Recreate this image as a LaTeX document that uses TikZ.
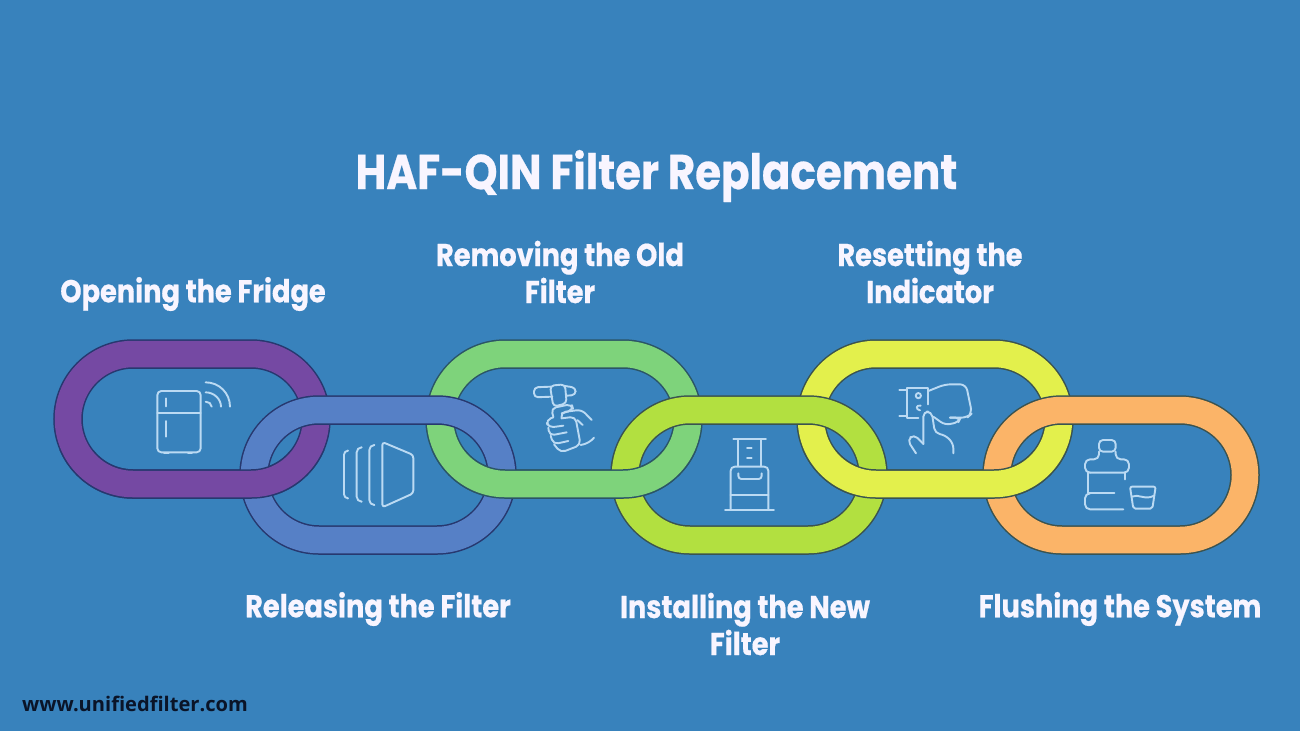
\documentclass[tikz,border=0pt]{standalone}
\usepackage{fontspec}
\setmainfont{Poppins}
\newfontfamily\webfont{Open Sans}
\newfontfamily\ttlfont[FakeStretch=0.86,BoldFeatures={FakeBold=0.5}]{Poppins}
\definecolor{bgc}{HTML}{3882BC}
\definecolor{cpurple}{HTML}{7549A3}
\definecolor{cblue}{HTML}{5680C6}
\definecolor{cgreen}{HTML}{7ED37B}
\definecolor{clime}{HTML}{B2E040}
\definecolor{cyellow}{HTML}{E3F04C}
\definecolor{corange}{HTML}{FBB468}
\definecolor{ednavy}{HTML}{27386F}
\definecolor{edteal}{HTML}{2B5566}
\definecolor{edolive}{HTML}{3A5350}
\definecolor{txtc}{HTML}{F8F5FF}
\definecolor{iconc}{HTML}{BBDAF3}
\definecolor{webc}{HTML}{0A1428}
\newcommand{\chainlink}[4]{%
  \draw[draw=#4,line width=29.5pt,rounded corners=65pt] (#1+14,#2) rectangle (#1+262,#2+130);
  \draw[draw=#3,line width=26.5pt,rounded corners=65pt] (#1+14,#2) rectangle (#1+262,#2+130);}
\tikzset{
  heading/.style={font=\ttlfont\bfseries\fontsize{48.8}{50}\selectfont,text=txtc,inner sep=0pt},
  steplabel/.style={font=\ttlfont\bfseries\fontsize{31.6}{37}\selectfont,text=txtc,inner sep=0pt,align=center},
  weblabel/.style={font=\webfont\bfseries\fontsize{20.1}{22}\selectfont,text=webc,inner sep=0pt,anchor=west},
  iconline/.style={draw=iconc,line width=1.9pt,line cap=round,line join=round,fill=none},
  zoomed/.style={shift={#1},x=0.3333pt,y=-0.3333pt}
}
\begin{document}
\begin{tikzpicture}[x=1pt,y=-1pt]
\useasboundingbox (0,0) rectangle (1300,731);
\fill[bgc] (0,0) rectangle (1300,731);

% chain: upper links, lower links, then upper links' bottom bands on top
\chainlink{54}{354}{cpurple}{ednavy}
\chainlink{426}{354}{cgreen}{edteal}
\chainlink{797}{354}{cyellow}{edolive}
\chainlink{240}{410}{cblue}{ednavy}
\chainlink{611}{410}{clime}{edolive}
\chainlink{983}{410}{corange}{edolive}
\begin{scope}
\clip (0,450) rectangle (1300,520);
\chainlink{54}{354}{cpurple}{ednavy}
\chainlink{426}{354}{cgreen}{edteal}
\chainlink{797}{354}{cyellow}{edolive}
\end{scope}

% fridge icon
\begin{scope}[zoomed={(140,375)}]
\draw[iconline,rounded corners=4pt] (52,48) rectangle (182,232);
\draw[iconline] (52,113) -- (182,113);
\draw[iconline] (79,70) -- (79,94);
\draw[iconline] (79,138) -- (79,185);
\draw[iconline] (72,234) -- (86,234);
\draw[iconline] (144,234) -- (156,234);
\draw[iconline] (197,22) .. controls (238,22) and (270,55) .. (270,95);
\draw[iconline] (197,52) .. controls (222,52) and (243,72) .. (243,95);
\draw[iconline] (197,80) .. controls (206,80) and (215,86) .. (215,95);
\end{scope}

% filter icon
\begin{scope}[zoomed={(330,430)}]
\draw[iconline,rounded corners=3pt] (157,36) -- (250,75) -- (250,190) -- (157,232) -- cycle;
\draw[iconline,rounded corners=4pt] (52,62) -- (42,62) -- (42,205) -- (52,205);
\draw[iconline,rounded corners=5pt] (93,52) -- (80,52) -- (80,215) -- (93,215);
\draw[iconline,rounded corners=5pt] (133,45) -- (118,45) -- (118,225) -- (133,225);
\end{scope}

% hand with cartridge icon
\begin{scope}[zoomed={(520,375)}]
\draw[iconline,rounded corners=4pt] (92,35) -- (42,37) -- (42,67) -- (97,65);
\draw[iconline,rounded corners=4pt] (135,33) -- (167,38) -- (167,60) -- (140,62);
\draw[iconline,rounded corners=4pt] (90,32) -- (135,28) -- (140,85) -- (100,95) -- cycle;
\draw[iconline,rounded corners=5pt] (100,125) -- (93,100) -- (155,87) -- (160,105) -- (125,115);
\draw[iconline,rounded corners=5pt] (100,127) -- (78,135) -- (85,158) -- (130,152);
\draw[iconline,rounded corners=5pt] (85,158) -- (88,182) -- (140,172);
\draw[iconline,rounded corners=5pt] (92,182) -- (100,208) -- (145,198);
\draw[iconline,rounded corners=5pt] (125,130) -- (122,112) -- (185,104) -- (215,135);
\draw[iconline,rounded corners=5pt] (125,130) -- (166,125) -- (182,210) -- (122,233) -- (102,208);
\draw[iconline,rounded corners=5pt] (172,135) -- (188,150);
\draw[iconline,rounded corners=6pt] (182,210) -- (208,204) -- (222,188);
\end{scope}

% water cooler icon
\begin{scope}[zoomed={(700,430)}]
\draw[iconline] (100,27) -- (198,27);
\draw[iconline] (115,27) -- (115,108);
\draw[iconline] (182,27) -- (182,108);
\draw[iconline] (141,55) -- (155,55);
\draw[iconline] (141,83) -- (155,83);
\draw[iconline,rounded corners=4pt] (92,240) -- (92,110) -- (205,110) -- (205,240);
\draw[iconline,rounded corners=3pt] (115,130) -- (115,147) -- (185,147) -- (185,130);
\draw[iconline] (92,195) -- (205,195);
\draw[iconline] (75,240) -- (222,240);
\end{scope}

% hand pressing button icon
\begin{scope}[zoomed={(890,375)}]
\draw[iconline] (28,45) -- (50,45);
\draw[iconline] (28,122) -- (50,122);
\draw[iconline] (85,128) -- (52,128) -- (52,38) -- (115,38) -- (115,88);
\draw[iconline] (85,62) circle[radius=2.6pt];
\draw[iconline] (92,92) .. controls (78,88) and (76,104) .. (90,106);
\draw[iconline,rounded corners=6pt] (115,48) -- (165,28) -- (228,28) -- (246,115) -- (232,128) -- (180,128);
\draw[iconline,rounded corners=5pt] (180,128) -- (212,128) -- (205,142) -- (165,150) -- (130,125);
\draw[iconline,rounded corners=5pt] (100,207) -- (100,110) -- (125,110) -- (135,175) -- (165,180) -- (190,205) -- (190,235);
\draw[iconline,rounded corners=5pt] (100,207) -- (72,178) -- (52,195) -- (78,235);
\end{scope}

% bottle and glass icon
\begin{scope}[zoomed={(1075,430)}]
\draw[iconline,rounded corners=4pt] (72,65) -- (72,30) -- (122,30) -- (122,65) -- cycle;
\draw[iconline,rounded corners=5pt] (72,65) -- (72,88) -- (30,88) -- (30,128) -- (45,128);
\draw[iconline,rounded corners=5pt] (122,65) -- (122,88) -- (162,88) -- (162,128) -- (45,128);
\draw[iconline] (150,128) -- (150,148);
\draw[iconline] (40,128) -- (40,190) -- (118,190);
\draw[iconline,rounded corners=5pt] (40,190) -- (30,190) -- (30,238) -- (145,238);
\draw[iconline,rounded corners=2pt] (165,170) -- (242,170) -- (232,236) -- (175,236) -- cycle;
\draw[iconline] (170,200) .. controls (190,190) and (210,212) .. (237,197);
\end{scope}

% texts
\node[heading] (title) at (656.5,176) {HAF-QIN Filter Replacement};
\node[steplabel] (s1) at (193,294) {Opening the Fridge};
\node[steplabel] (s2) at (378,609) {Releasing the Filter};
\node[steplabel] (s3) at (560,272) {Removing the Old\\Filter};
\node[steplabel] (s4) at (745,624) {Installing the New\\Filter};
\node[steplabel] (s5) at (930,272) {Resetting the\\Indicator};
\node[steplabel] (s6) at (1120,609) {Flushing the System};
\node[weblabel] (web) at (22,704) {www.unifiedfilter.com};
\end{tikzpicture}
\end{document}
